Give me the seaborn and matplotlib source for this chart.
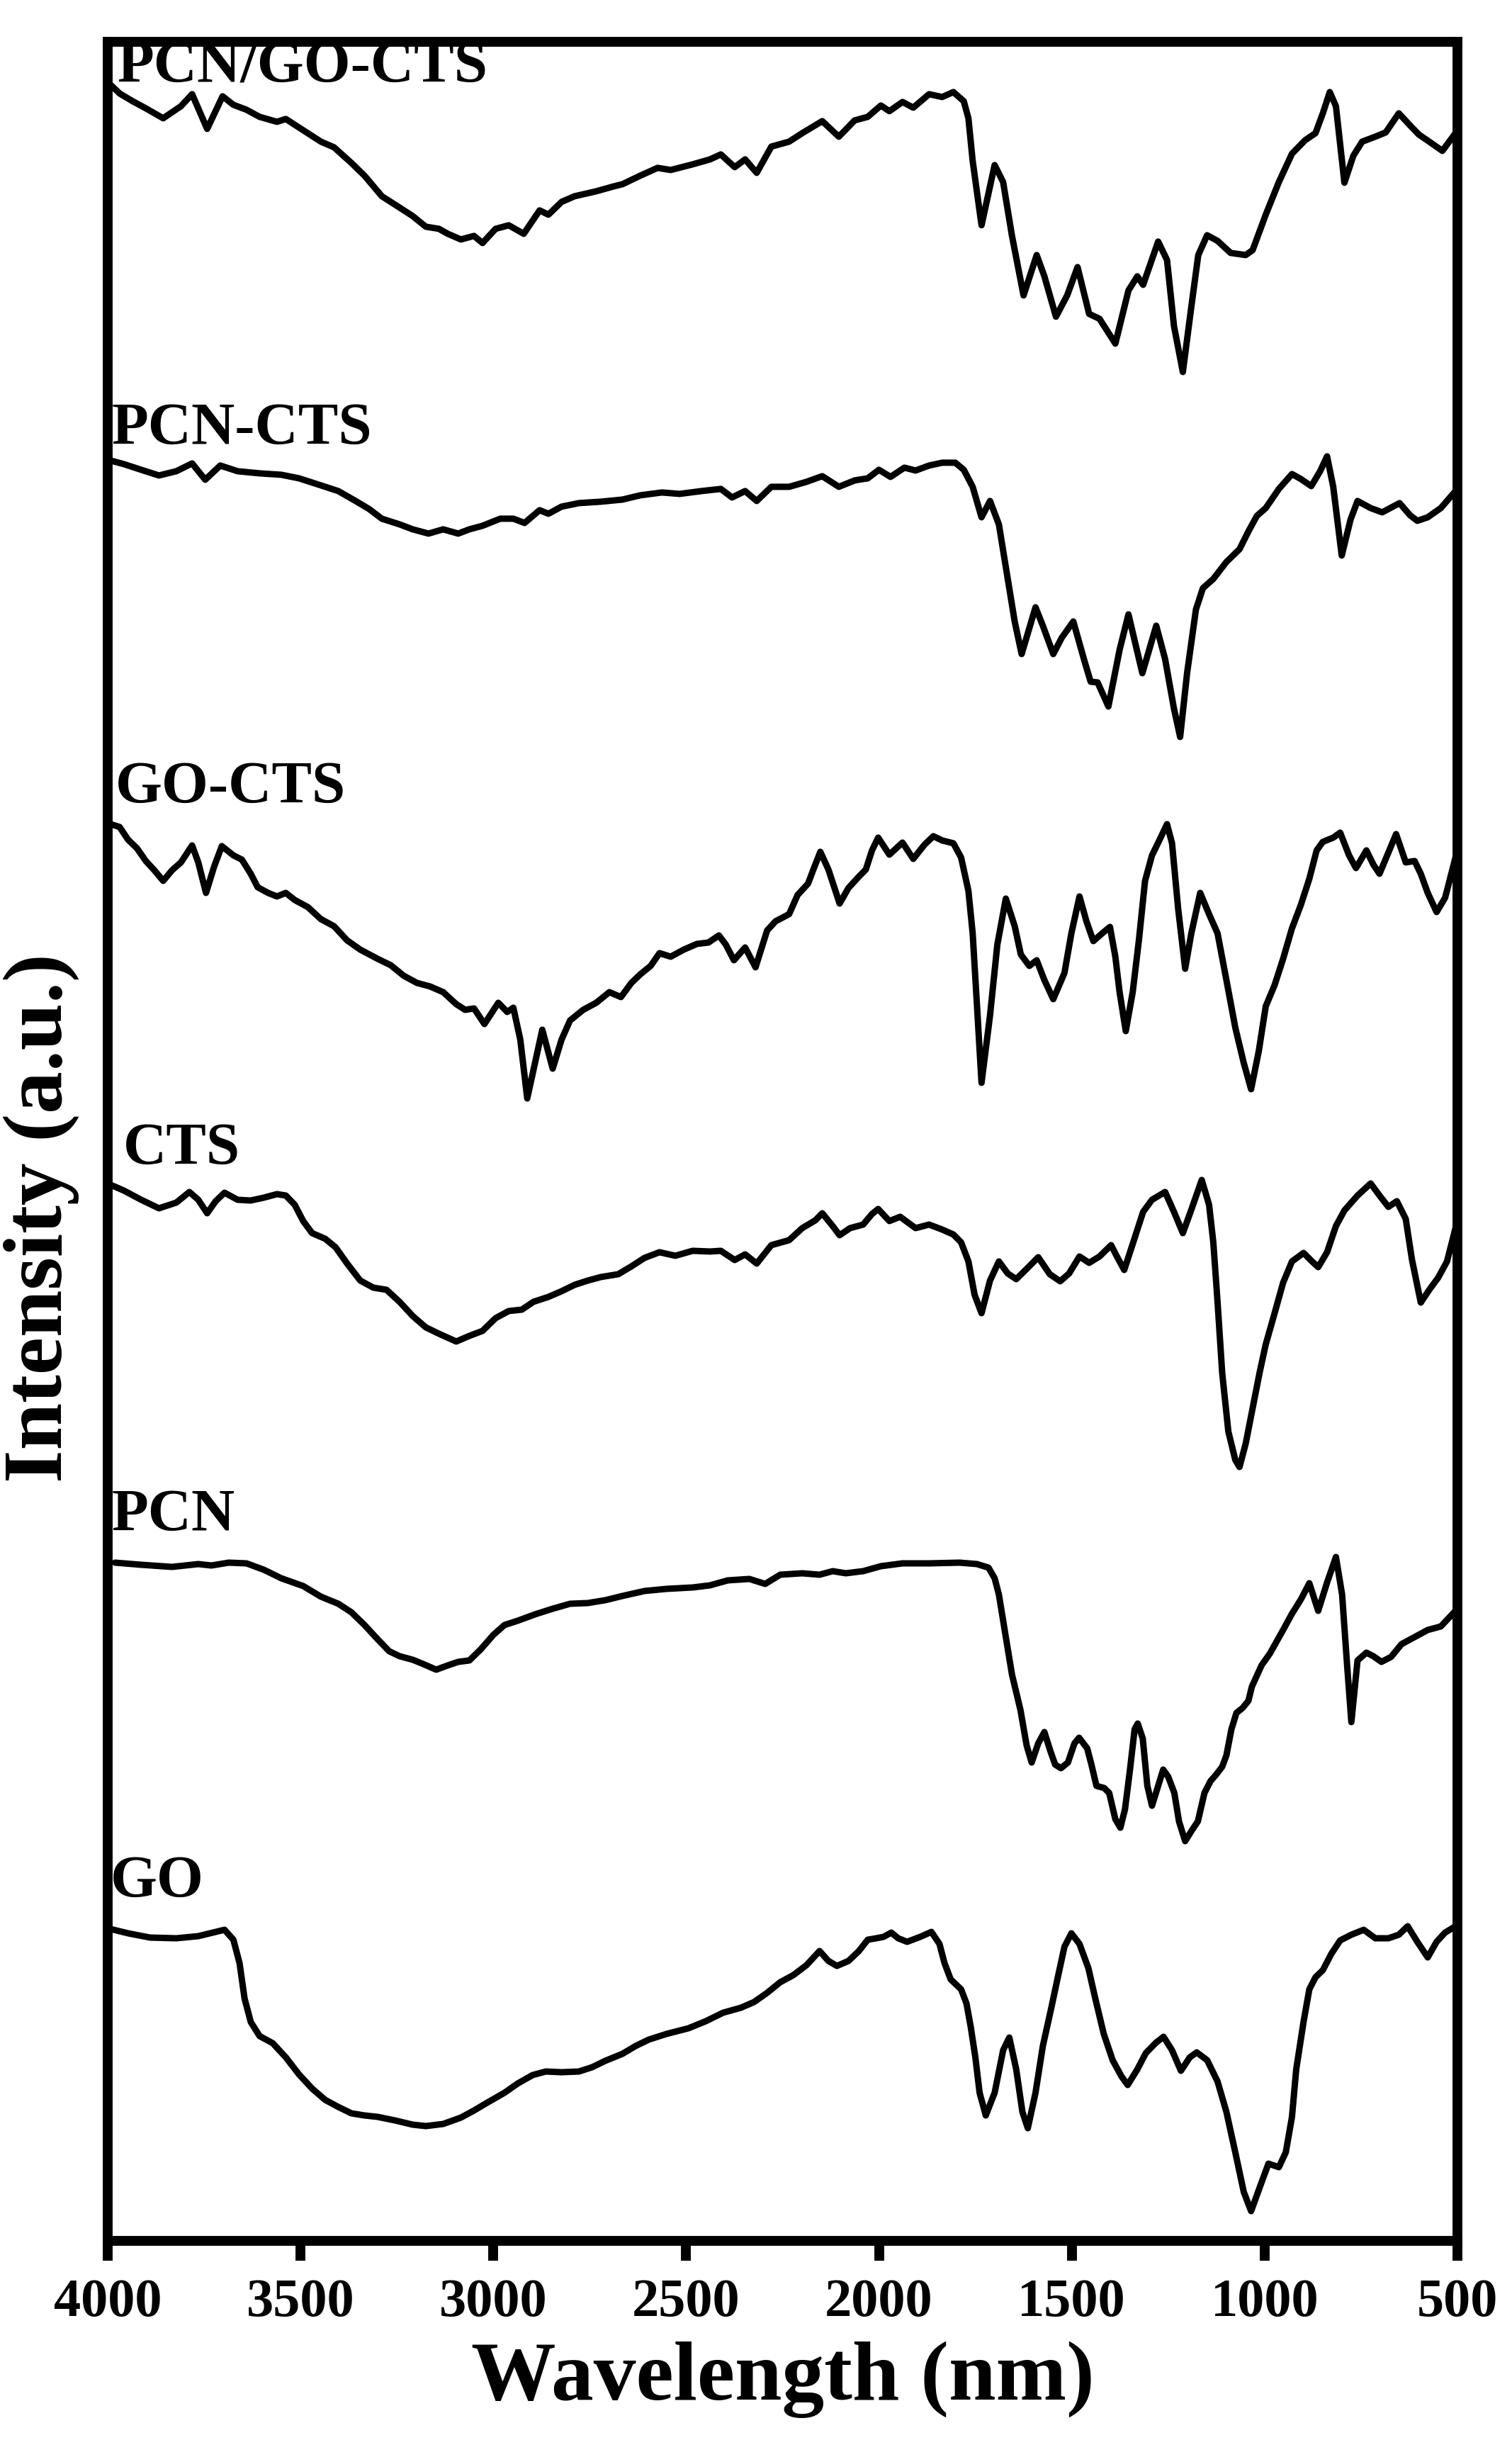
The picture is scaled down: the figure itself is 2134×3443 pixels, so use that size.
import numpy as np
import pandas as pd
import seaborn as sns
import matplotlib.pyplot as plt

# FTIR spectra, stacked (intensity in arbitrary units, offsets included)
labels = ["PCN/GO-CTS", "PCN-CTS", "GO-CTS", "CTS", "PCN", "GO"]

pcn_go_cts_wn = [3992, 3969, 3935, 3901, 3856, 3810, 3781, 3742, 3702, 3674, 3640, 3606, 3561, 3538, 3504,
                 3447, 3413, 3368, 3334, 3289, 3243, 3209, 3175, 3141, 3118, 3084, 3050, 3028, 2994, 2960,
                 2921, 2880, 2857, 2823, 2789, 2733, 2687, 2665, 2619, 2574, 2540, 2483, 2438, 2410, 2374,
                 2347, 2317, 2279, 2233, 2199, 2147, 2104, 2063, 2029, 1995, 1973, 1939, 1911, 1870, 1836,
                 1807, 1780, 1768, 1757, 1734, 1700, 1678, 1655, 1625, 1591, 1571, 1541, 1512, 1485, 1455,
                 1428, 1387, 1353, 1330, 1315, 1276, 1253, 1235, 1212, 1190, 1172, 1149, 1122, 1088, 1049,
                 1031, 997, 963, 929, 895, 868, 849, 831, 815, 793, 770, 747, 713, 686, 652,
                 623, 600, 573, 539, 505]
pcn_go_cts_i = [30.42, 30.30, 30.19, 30.09, 29.95, 30.12, 30.29, 29.80, 30.26, 30.14, 30.07, 29.97, 29.90, 29.94, 29.82,
                29.62, 29.54, 29.32, 29.14, 28.85, 28.69, 28.57, 28.42, 28.39, 28.32, 28.24, 28.29, 28.19, 28.39, 28.44,
                28.32, 28.65, 28.59, 28.77, 28.85, 28.92, 28.99, 29.02, 29.14, 29.25, 29.22, 29.30, 29.37, 29.44, 29.26,
                29.37, 29.18, 29.55, 29.62, 29.74, 29.91, 29.69, 29.92, 29.97, 30.13, 30.05, 30.18, 30.10, 30.29, 30.25,
                30.32, 30.19, 29.95, 29.35, 28.44, 29.29, 29.05, 28.29, 27.45, 28.02, 27.72, 27.15, 27.45, 27.85, 27.19,
                27.12, 26.77, 27.52, 27.72, 27.60, 28.21, 27.95, 27.02, 26.37, 27.29, 28.02, 28.30, 28.22, 28.05, 28.02,
                28.09, 28.59, 29.05, 29.45, 29.64, 29.74, 30.02, 30.32, 30.12, 29.04, 29.42, 29.62, 29.69, 29.75, 30.02,
                29.85, 29.72, 29.62, 29.49, 29.74]

pcn_cts_wn = [3992, 3958, 3913, 3867, 3822, 3781, 3747, 3708, 3663, 3606, 3550, 3504, 3447, 3402, 3357,
              3323, 3289, 3243, 3209, 3168, 3130, 3091, 3062, 3028, 2982, 2948, 2919, 2880, 2857, 2823,
              2778, 2721, 2665, 2619, 2563, 2517, 2460, 2410, 2381, 2347, 2317, 2279, 2233, 2188, 2147,
              2104, 2063, 2029, 2000, 1970, 1934, 1905, 1870, 1836, 1802, 1780, 1757, 1734, 1712, 1689,
              1666, 1648, 1630, 1594, 1575, 1548, 1526, 1496, 1467, 1451, 1433, 1405, 1376, 1353, 1317,
              1281, 1258, 1235, 1219, 1201, 1178, 1160, 1133, 1099, 1065, 1042, 1020, 997, 963, 929,
              906, 879, 856, 838, 822, 800, 777, 759, 725, 695, 650, 623, 604, 577, 543, 505]
pcn_cts_i = [25.12, 25.07, 24.99, 24.91, 24.97, 25.08, 24.85, 25.05, 24.97, 24.94, 24.92, 24.87, 24.77, 24.69, 24.55,
             24.44, 24.30, 24.22, 24.15, 24.09, 24.15, 24.09, 24.15, 24.20, 24.30, 24.30, 24.24, 24.42, 24.37, 24.47,
             24.52, 24.54, 24.57, 24.63, 24.67, 24.65, 24.69, 24.72, 24.60, 24.69, 24.55, 24.75, 24.75, 24.82, 24.90,
             24.75, 24.84, 24.87, 24.99, 24.89, 25.02, 24.98, 25.05, 25.09, 25.09, 24.99, 24.75, 24.32, 24.55, 24.22,
             23.45, 22.85, 22.39, 23.05, 22.79, 22.39, 22.62, 22.85, 22.29, 22.00, 21.99, 21.65, 22.45, 22.95, 22.12,
             22.79, 22.32, 21.62, 21.22, 22.12, 23.02, 23.32, 23.45, 23.69, 23.87, 24.12, 24.34, 24.45, 24.72, 24.93,
             24.86, 24.76, 24.97, 25.18, 24.75, 23.78, 24.29, 24.55, 24.45, 24.39, 24.52, 24.35, 24.27, 24.32, 24.45, 24.69]

go_cts_wn = [3992, 3969, 3947, 3924, 3901, 3879, 3856, 3833, 3810, 3781, 3765, 3745, 3724, 3704, 3674,
             3652, 3629, 3611, 3584, 3561, 3538, 3515, 3481, 3447, 3413, 3379, 3345, 3300, 3266, 3232,
             3198, 3164, 3130, 3096, 3073, 3050, 3023, 3005, 2987, 2964, 2948, 2930, 2912, 2892, 2873,
             2846, 2823, 2801, 2767, 2733, 2699, 2669, 2642, 2619, 2592, 2569, 2540, 2506, 2472, 2442,
             2415, 2397, 2376, 2347, 2320, 2290, 2268, 2233, 2211, 2184, 2170, 2152, 2131, 2102, 2079,
             2052, 2034, 2018, 2002, 1973, 1939, 1911, 1882, 1859, 1836, 1807, 1787, 1768, 1757, 1746,
             1734, 1712, 1693, 1671, 1648, 1632, 1610, 1591, 1571, 1548, 1519, 1501, 1480, 1462, 1444,
             1421, 1401, 1387, 1376, 1360, 1342, 1326, 1310, 1292, 1274, 1253, 1240, 1224, 1206, 1190,
             1167, 1144, 1122, 1099, 1076, 1054, 1035, 1015, 997, 974, 952, 929, 906, 884, 865,
             849, 822, 804, 781, 763, 736, 718, 702, 679, 659, 634, 611, 595, 577, 554, 532, 505]
go_cts_i = [19.99, 19.95, 19.77, 19.65, 19.47, 19.34, 19.19, 19.34, 19.45, 19.69, 19.45, 19.02, 19.39, 19.68, 19.55,
            19.49, 19.29, 19.10, 19.02, 18.97, 19.02, 18.92, 18.82, 18.65, 18.55, 18.35, 18.22, 18.09, 18.00, 17.85,
            17.75, 17.70, 17.62, 17.45, 17.37, 17.39, 17.17, 17.32, 17.47, 17.34, 17.40, 16.95, 16.12, 16.62, 17.09,
            16.54, 16.95, 17.22, 17.37, 17.47, 17.62, 17.55, 17.75, 17.87, 17.99, 18.17, 18.12, 18.22, 18.30, 18.32,
            18.42, 18.29, 18.07, 18.25, 17.97, 18.49, 18.62, 18.72, 18.99, 19.15, 19.35, 19.60, 19.35, 18.87, 19.09,
            19.25, 19.35, 19.62, 19.80, 19.56, 19.73, 19.50, 19.70, 19.82, 19.76, 19.72, 19.52, 19.05, 18.45, 17.45,
            16.34, 17.29, 18.29, 18.94, 18.55, 18.15, 17.99, 18.07, 17.79, 17.52, 17.89, 18.45, 18.97, 18.62, 18.34,
            18.45, 18.54, 18.12, 17.62, 17.07, 17.62, 18.35, 19.19, 19.55, 19.75, 19.99, 19.72, 18.79, 17.95, 18.45,
            19.02, 18.72, 18.45, 17.79, 17.12, 16.62, 16.25, 16.79, 17.42, 17.72, 18.09, 18.52, 18.85, 19.22, 19.62,
            19.74, 19.80, 19.87, 19.55, 19.37, 19.62, 19.42, 19.29, 19.59, 19.85, 19.45, 19.47, 19.29, 19.02, 18.75, 18.95, 19.52]

cts_wn = [3992, 3958, 3913, 3867, 3822, 3788, 3765, 3742, 3720, 3697, 3663, 3629, 3595, 3561, 3538,
          3515, 3493, 3470, 3436, 3409, 3379, 3345, 3311, 3277, 3243, 3209, 3175, 3141, 3096, 3062,
          3028, 2994, 2960, 2926, 2896, 2857, 2823, 2789, 2755, 2721, 2676, 2642, 2608, 2569, 2528,
          2483, 2438, 2410, 2374, 2347, 2317, 2279, 2233, 2199, 2165, 2147, 2120, 2102, 2075, 2041,
          2018, 2002, 1973, 1945, 1905, 1870, 1836, 1807, 1787, 1768, 1752, 1734, 1712, 1689, 1666,
          1644, 1616, 1587, 1557, 1530, 1507, 1480, 1455, 1428, 1398, 1383, 1364, 1337, 1315, 1292,
          1258, 1235, 1212, 1190, 1163, 1144, 1133, 1122, 1110, 1094, 1076, 1065, 1049, 1031, 1013,
          997, 974, 952, 929, 899, 877, 861, 838, 815, 793, 759, 725, 702, 679, 657,
          634, 618, 595, 573, 550, 527, 505]
cts_i = [14.90, 14.82, 14.69, 14.57, 14.65, 14.80, 14.69, 14.50, 14.67, 14.79, 14.69, 14.68, 14.72, 14.77, 14.75,
         14.62, 14.39, 14.22, 14.14, 14.02, 13.79, 13.55, 13.45, 13.42, 13.25, 13.05, 12.89, 12.80, 12.69, 12.77,
         12.84, 13.02, 13.12, 13.14, 13.25, 13.32, 13.40, 13.49, 13.55, 13.60, 13.64, 13.75, 13.87, 13.95, 13.90,
         13.97, 13.96, 13.97, 13.84, 13.92, 13.79, 14.05, 14.12, 14.29, 14.40, 14.50, 14.32, 14.19, 14.29, 14.34,
         14.49, 14.56, 14.39, 14.45, 14.29, 14.34, 14.27, 14.20, 14.09, 13.82, 13.35, 13.09, 13.55, 13.82, 13.65,
         13.57, 13.72, 13.88, 13.64, 13.54, 13.65, 13.89, 13.80, 13.89, 14.05, 13.89, 13.70, 14.15, 14.52, 14.69,
         14.80, 14.52, 14.22, 14.55, 14.97, 14.62, 14.09, 13.25, 12.25, 11.42, 11.02, 10.92, 11.25, 11.75, 12.25,
         12.65, 13.09, 13.52, 13.82, 13.94, 13.82, 13.74, 13.95, 14.32, 14.54, 14.75, 14.92, 14.75, 14.59, 14.67,
         14.42, 13.85, 13.24, 13.42, 13.59, 13.82, 14.29]

pcn_wn = [3981, 3913, 3833, 3765, 3731, 3686, 3640, 3595, 3550, 3493, 3447, 3402, 3368, 3334, 3300,
          3270, 3243, 3209, 3182, 3148, 3118, 3091, 3062, 3032, 3000, 2971, 2937, 2892, 2846, 2801,
          2755, 2710, 2665, 2608, 2551, 2483, 2438, 2392, 2336, 2295, 2256, 2199, 2154, 2120, 2086,
          2041, 1995, 1939, 1870, 1791, 1746, 1716, 1700, 1689, 1671, 1655, 1633, 1617, 1604, 1587,
          1571, 1556, 1543, 1528, 1510, 1493, 1481, 1460, 1449, 1436, 1416, 1403, 1387, 1374, 1362,
          1349, 1337, 1329, 1316, 1304, 1292, 1276, 1263, 1250, 1234, 1222, 1206, 1189, 1173, 1156,
          1140, 1127, 1110, 1099, 1086, 1073, 1057, 1042, 1033, 1008, 986, 952, 929, 906, 884,
          861, 838, 815, 799, 786, 775, 759, 736, 718, 697, 672, 645, 611, 577, 543, 505]
pcn_i = [9.57, 9.54, 9.51, 9.55, 9.53, 9.57, 9.56, 9.47, 9.35, 9.24, 9.09, 8.99, 8.87, 8.69, 8.49,
         8.32, 8.25, 8.20, 8.14, 8.06, 8.12, 8.17, 8.19, 8.35, 8.55, 8.69, 8.75, 8.84, 8.92, 8.99,
         9.00, 9.04, 9.10, 9.17, 9.20, 9.22, 9.25, 9.32, 9.34, 9.27, 9.40, 9.42, 9.40, 9.45, 9.42,
         9.45, 9.52, 9.56, 9.56, 9.57, 9.55, 9.50, 9.35, 9.12, 8.52, 7.99, 7.49, 6.99, 6.75, 7.02,
         7.18, 6.92, 6.72, 6.67, 6.75, 7.02, 7.10, 6.95, 6.72, 6.42, 6.39, 6.32, 5.95, 5.83, 6.09,
         6.65, 7.22, 7.30, 7.09, 6.42, 6.14, 6.42, 6.65, 6.55, 6.32, 5.92, 5.64, 5.79, 5.92, 6.32,
         6.49, 6.57, 6.69, 6.85, 7.22, 7.45, 7.52, 7.62, 7.82, 8.12, 8.29, 8.62, 8.85, 9.05, 9.28,
         8.89, 9.29, 9.65, 9.12, 8.12, 7.32, 8.19, 8.30, 8.25, 8.17, 8.24, 8.42, 8.52, 8.62, 8.67, 8.89]

go_wn = [3992, 3947, 3890, 3822, 3765, 3720, 3697, 3674, 3658, 3645, 3629, 3606, 3572, 3538, 3504,
         3470, 3436, 3402, 3368, 3334, 3300, 3255, 3209, 3175, 3130, 3084, 3050, 3016, 2971, 2937,
         2898, 2864, 2823, 2778, 2744, 2710, 2665, 2631, 2597, 2551, 2494, 2449, 2404, 2358, 2324,
         2290, 2256, 2222, 2188, 2154, 2131, 2109, 2079, 2052, 2029, 2007, 1988, 1968, 1950, 1927,
         1893, 1864, 1843, 1830, 1814, 1787, 1773, 1762, 1750, 1739, 1723, 1700, 1678, 1662, 1644,
         1628, 1614, 1594, 1575, 1553, 1535, 1519, 1501, 1480, 1457, 1439, 1417, 1394, 1371, 1355,
         1330, 1308, 1281, 1262, 1240, 1217, 1194, 1176, 1149, 1122, 1099, 1076, 1054, 1035, 1013,
         990, 979, 963, 945, 929, 918, 899, 884, 868, 849, 827, 804, 775, 743, 713,
         679, 652, 629, 604, 577, 554, 532, 505]
go_i = [4.40, 4.34, 4.28, 4.27, 4.30, 4.36, 4.39, 4.25, 3.92, 3.42, 3.09, 2.89, 2.79, 2.59, 2.35,
        2.15, 1.99, 1.89, 1.80, 1.77, 1.75, 1.70, 1.64, 1.62, 1.65, 1.74, 1.84, 1.95, 2.09, 2.22,
        2.34, 2.39, 2.38, 2.39, 2.45, 2.54, 2.64, 2.75, 2.84, 2.92, 3.00, 3.10, 3.22, 3.29, 3.37,
        3.50, 3.65, 3.75, 3.89, 4.09, 3.95, 3.88, 3.95, 4.09, 4.25, 4.27, 4.29, 4.35, 4.27, 4.22,
        4.29, 4.36, 4.19, 3.92, 3.69, 3.55, 3.35, 3.02, 2.59, 2.09, 1.77, 2.09, 2.69, 2.87, 2.42,
        1.82, 1.59, 2.09, 2.75, 3.29, 3.75, 4.15, 4.34, 4.19, 3.85, 3.42, 2.92, 2.55, 2.32, 2.20,
        2.42, 2.65, 2.80, 2.88, 2.69, 2.40, 2.59, 2.66, 2.55, 2.25, 1.82, 1.25, 0.69, 0.42, 0.75,
        1.09, 1.07, 1.04, 1.25, 1.75, 2.42, 3.09, 3.55, 3.72, 3.82, 4.05, 4.24, 4.32, 4.39, 4.27,
        4.27, 4.32, 4.44, 4.22, 4.00, 4.22, 4.35, 4.44]

# label anchor points (wavenumber, intensity)
label_wn = [3975, 3990, 3980, 3960, 3989, 3993]
label_i = [30.45, 25.35, 20.29, 15.19, 10.02, 4.85]

xticks = [4000, 3500, 3000, 2500, 2000, 1500, 1000, 500]

series = [(pcn_go_cts_wn, pcn_go_cts_i), (pcn_cts_wn, pcn_cts_i), (go_cts_wn, go_cts_i),
          (cts_wn, cts_i), (pcn_wn, pcn_i), (go_wn, go_i)]

frames = []
for name, (wn, inten) in zip(labels, series):
    frames.append(pd.DataFrame({"wn": wn, "I": inten, "sample": name}))
df = pd.concat(frames, ignore_index=True)

sns.set_style("ticks")
plt.rcParams['font.family'] = ['Liberation Serif', 'DejaVu Serif']
plt.rcParams['font.weight'] = 'bold'
plt.rcParams['text.color'] = 'black'
plt.rcParams['axes.labelcolor'] = 'black'
plt.rcParams['xtick.color'] = 'black'
plt.rcParams['ytick.color'] = 'black'

fig = plt.figure(figsize=(21.34, 34.43), dpi=100)
ax = fig.add_axes([0.0712, 0.0816, 0.8927, 0.9013])

for name in labels:
    d = df[df["sample"] == name]
    sns.lineplot(data=d, x="wn", y="I", color="black", lw=6.5, ax=ax,
                 estimator=None, sort=False, legend=False)

for name, x, y in zip(labels, label_wn, label_i):
    ax.text(x, y, name, fontsize=61, fontweight='bold', ha='left', va='baseline', color='black')

ax.set_xlim(4000, 500)
ax.set_ylim(0, 31.03)
ax.set_xticks(xticks)
ax.set_xticklabels([str(t) for t in xticks])
ax.set_yticks([])

for s in ax.spines.values():
    s.set_visible(True)
    s.set_linewidth(10)
    s.set_color("black")

ax.tick_params(axis='x', direction='out', length=20, width=10, pad=18, labelsize=55,
               color='black', labelcolor='black')
for lab in ax.get_xticklabels():
    lab.set_fontweight('bold')

ax.set_xlabel("Wavelength (nm)", fontsize=86, fontweight='bold', labelpad=14, color='black')
ax.set_ylabel("Intensity (a.u.)", fontsize=86, fontweight='bold', color='black')
ax.yaxis.set_label_coords(-0.021, 0.465)

fig.savefig("out.png", dpi=100)
